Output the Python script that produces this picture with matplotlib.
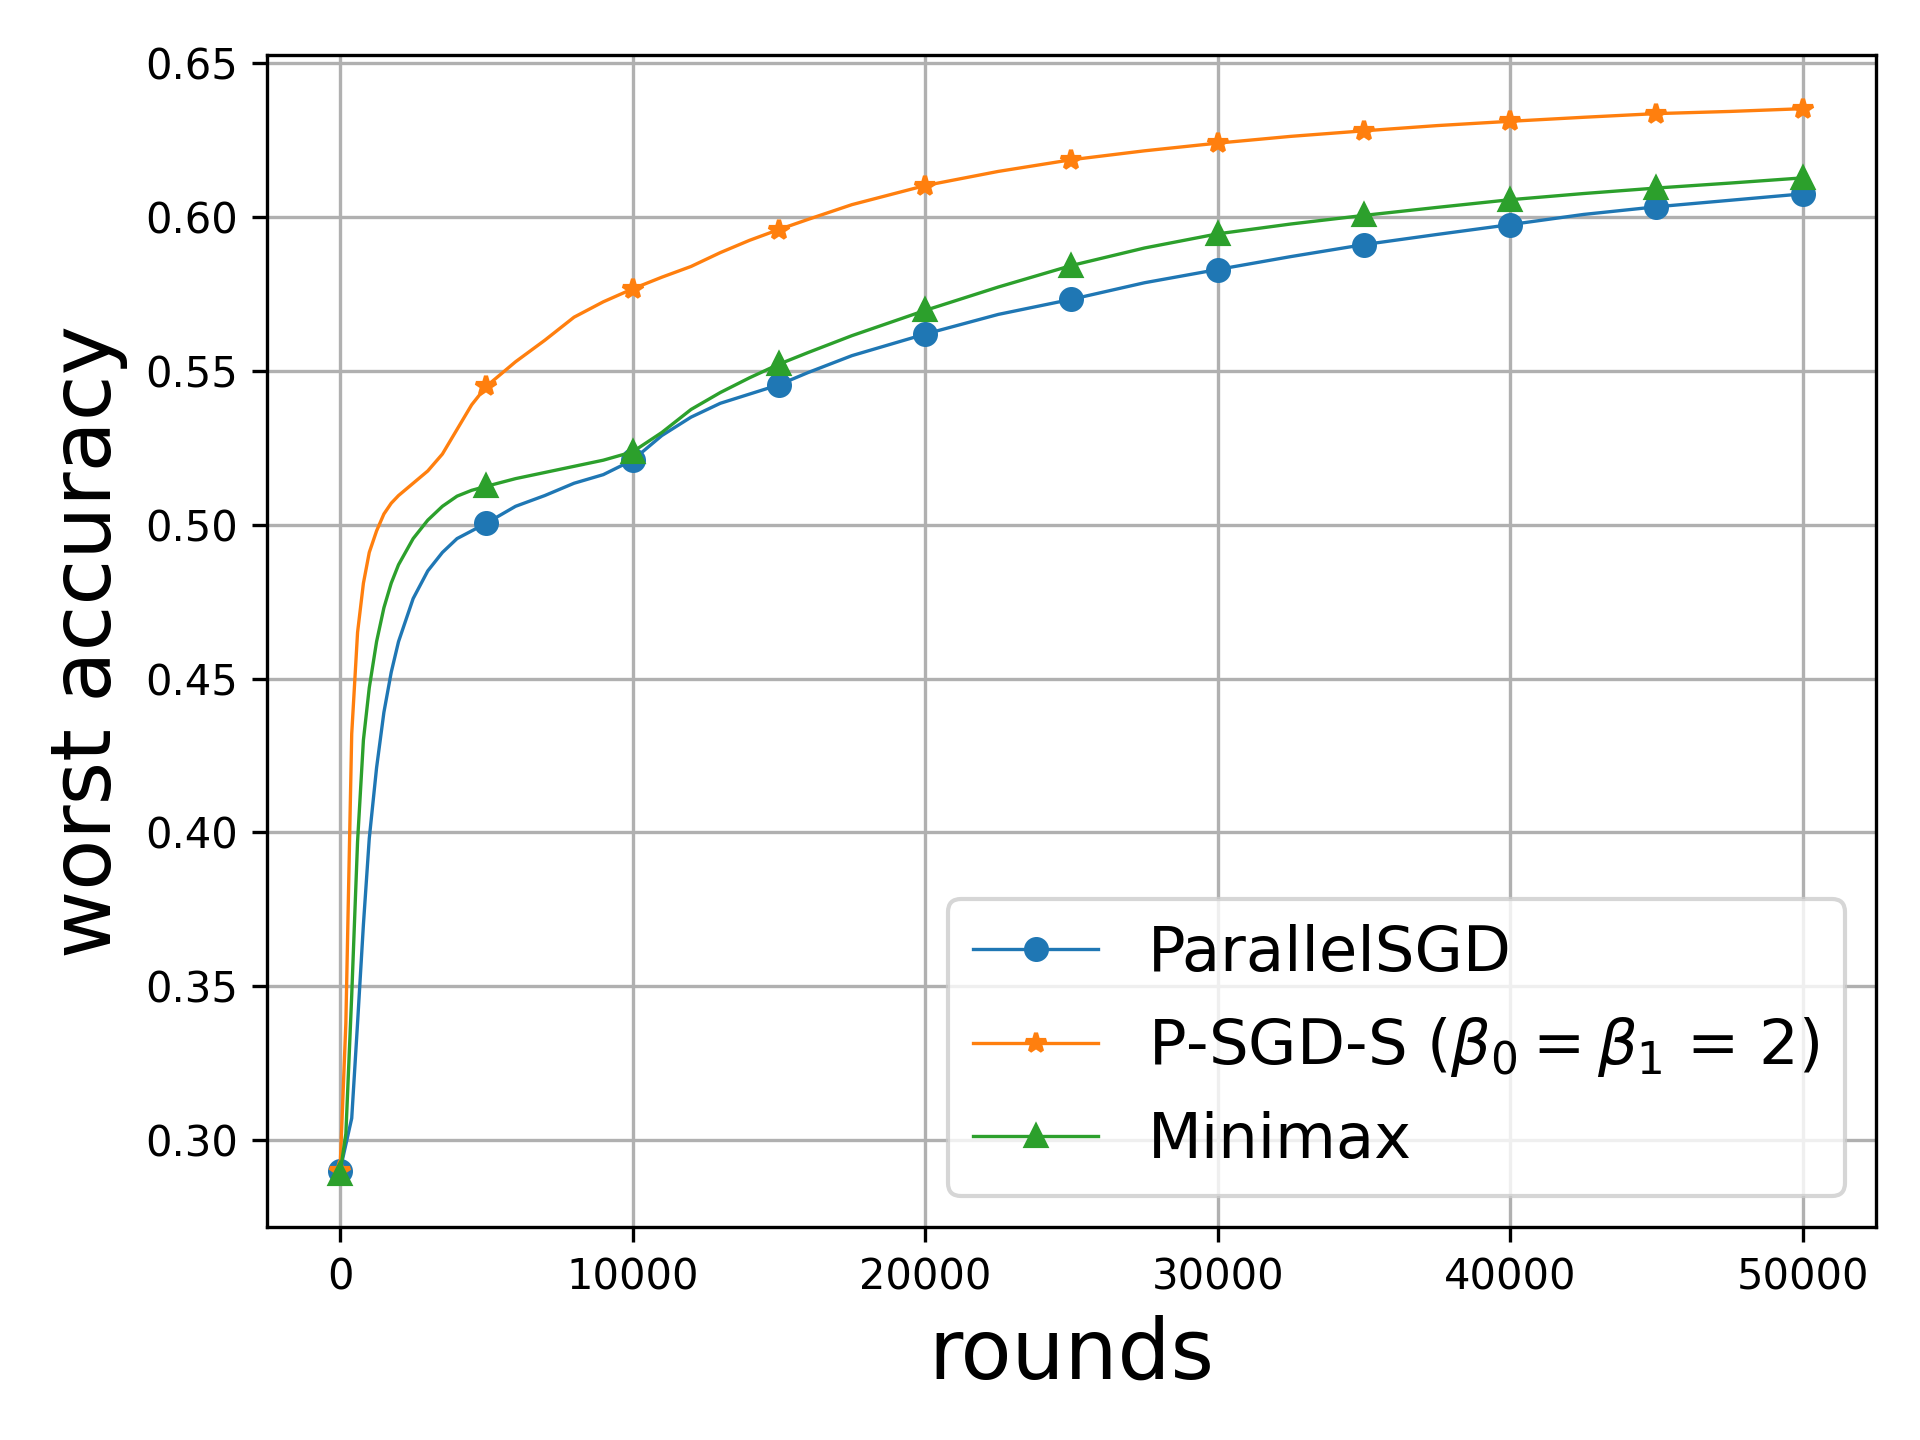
import matplotlib
matplotlib.use("Agg")
import matplotlib.pyplot as plt

rounds = [0, 200, 400, 600, 800, 1000, 1250, 1500, 1750, 2000, 2500, 3000, 3500, 4000, 4500,
          5000, 6000, 7000, 8000, 9000, 10000, 11000, 12000, 13000, 14000, 15000, 16000,
          17500, 20000, 22500, 25000, 27500, 30000, 32500, 35000, 37500, 40000, 42500,
          45000, 47500, 50000]

parallel_sgd = [0.290, 0.2985, 0.307, 0.338, 0.370, 0.398, 0.421, 0.439, 0.452, 0.462, 0.476,
                0.485, 0.491, 0.4955, 0.498, 0.5005, 0.506, 0.5095, 0.5135, 0.5163, 0.521,
                0.529, 0.535, 0.5395, 0.5425, 0.5455, 0.5495, 0.5550, 0.5620, 0.5684,
                0.5733, 0.5787, 0.5830, 0.5872, 0.5911, 0.5944, 0.5976, 0.6009, 0.6034,
                0.6055, 0.6076]

psgd_s = [0.290, 0.338, 0.432, 0.465, 0.481, 0.491, 0.498, 0.5035, 0.507, 0.5095, 0.5135,
          0.5175, 0.523, 0.531, 0.539, 0.545, 0.553, 0.560, 0.5675, 0.5725, 0.5767, 0.5805,
          0.584, 0.5885, 0.5925, 0.596, 0.5993, 0.6041, 0.6103, 0.6149, 0.6187, 0.6216,
          0.6241, 0.6263, 0.6281, 0.6298, 0.6312, 0.6325, 0.6337, 0.6344, 0.6353]

minimax = [0.289, 0.302, 0.347, 0.397, 0.430, 0.447, 0.462, 0.473, 0.481, 0.487, 0.4955,
           0.5015, 0.506, 0.5093, 0.5112, 0.5125, 0.515, 0.517, 0.519, 0.521, 0.5237,
           0.530, 0.5375, 0.543, 0.5478, 0.5522, 0.556, 0.5615, 0.5697, 0.5773, 0.5843,
           0.590, 0.5946, 0.5978, 0.6006, 0.6032, 0.6057, 0.6077, 0.6095, 0.6111, 0.6128]

labels = ["ParallelSGD", r"P-SGD-S ($\beta_0=\beta_1$ = 2)", "Minimax"]
markers = ["o", "*", "^"]
colors = ["#1f77b4", "#ff7f0e", "#2ca02c"]

mark_idx = [i for i, r in enumerate(rounds) if r % 5000 == 0]

fig, ax = plt.subplots(figsize=(6.4, 4.8), dpi=300)
for ys, lab, mk, c in zip([parallel_sgd, psgd_s, minimax], labels, markers, colors):
    ax.plot(rounds, ys, marker=mk, markevery=mark_idx, color=c, linewidth=0.8,
            markersize=5, label=lab)

ax.grid(True)
ax.set_xlabel("rounds", fontsize=20)
ax.set_ylabel("worst accuracy", fontsize=20)
ax.set_yticks([0.30, 0.35, 0.40, 0.45, 0.50, 0.55, 0.60, 0.65])
ax.legend(loc="lower right", fontsize=15)
fig.subplots_adjust(left=0.139, right=0.977, top=0.9615, bottom=0.148)
fig.savefig("out.png", dpi=300)
